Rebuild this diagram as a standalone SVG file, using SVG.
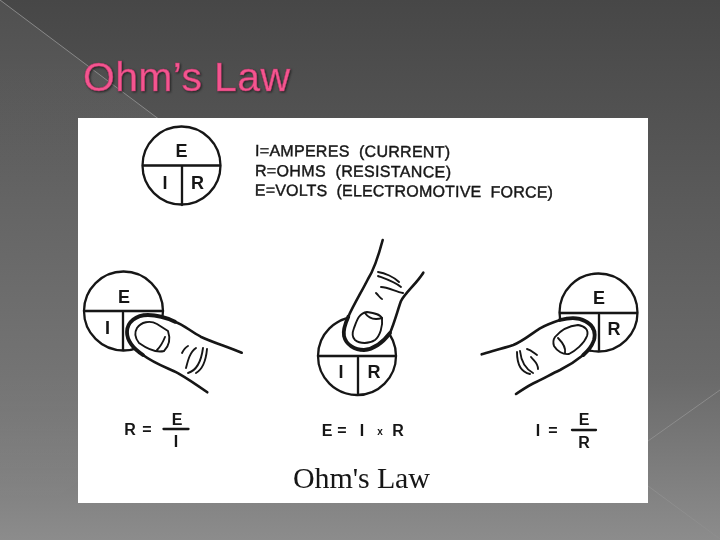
<svg xmlns="http://www.w3.org/2000/svg" width="720" height="540" viewBox="0 0 720 540">
<style>
.ln{fill:none;stroke:#151515;stroke-width:2.3;stroke-linecap:round;stroke-linejoin:round}
.fg{stroke-width:2.6}
.tip{stroke-width:3.8}
.thin{stroke-width:1.9}
.w{fill:#fff;stroke:none}
text{font-family:"Liberation Sans",Arial,sans-serif;fill:#151515}
.big{font-size:18px;font-weight:bold;text-anchor:middle}
.leg{font-size:16px;stroke:#151515;stroke-width:.4}
.eq{font-size:16px;font-weight:bold;text-anchor:middle}
.title{font-size:41px;fill:#f4558f;stroke:#c23a70;stroke-width:.5;filter:drop-shadow(1px 1px 1px #222)}
.cap{font-family:"Liberation Serif","Times New Roman",serif;font-size:30px}
.bgl{fill:none;stroke:#8e8e8e;stroke-width:.9}
</style>
<defs>
<linearGradient id="bg" x1="0" y1="0" x2="0" y2="1">
<stop offset="0" stop-color="#474747"/><stop offset=".37" stop-color="#5a5a5a"/><stop offset=".7" stop-color="#6a6a6a"/><stop offset="1" stop-color="#8c8c8c"/>
</linearGradient>
<linearGradient id="tint" x1="0" y1="0" x2="0" y2="1">
<stop offset="0" stop-color="#fff" stop-opacity=".05"/><stop offset=".7" stop-color="#fff" stop-opacity=".07"/><stop offset=".93" stop-color="#fff" stop-opacity="0"/>
</linearGradient>
<filter id="soft" x="-2%" y="-2%" width="104%" height="104%"><feGaussianBlur stdDeviation=".35"/></filter>
</defs>
<rect width="720" height="540" fill="url(#bg)"/>
<polygon points="0,0 360,270 0,540" fill="url(#tint)"/>
<path class="bgl" d="M0 0L160 120"/>
<path class="bgl" d="M720 390L648 441M648 486L720 539"/>
<text class="title" x="83" y="91" textLength="207" lengthAdjust="spacing">Ohm’s Law</text>
<rect x="78" y="118" width="570" height="385" fill="#fff"/>
<g filter="url(#soft)">
<g id="legend-circle">
<circle class="ln" cx="181.5" cy="165.5" r="39"/>
<path class="ln" d="M143 165.500H220M182 165.500V205"/>
<text class="big" x="181.500" y="157">E</text><text class="big" x="165" y="188.500">I</text><text class="big" x="197.500" y="188.500">R</text>
</g>
<g id="legend-text" transform="rotate(.4 255 170)">
<text class="leg" x="255" y="156" textLength="195" xml:space="preserve">I=AMPERES  (CURRENT)</text>
<text class="leg" x="255" y="176" textLength="196" xml:space="preserve">R=OHMS  (RESISTANCE)</text>
<text class="leg" x="255" y="195.500" textLength="298" xml:space="preserve">E=VOLTS  (ELECTROMOTIVE  FORCE)</text>
</g>
<g id="left-node">
<circle class="ln" cx="123.5" cy="311" r="39.500"/>
<path class="ln" d="M84 311H163M123 311V350"/>
<text class="big" x="124" y="303">E</text><text class="big" x="107.500" y="334">I</text>
<path class="w" d="M242 353L201 337L175 322L150 315L135 318L127 330L128 340L140 354L157 364L178 374L207 393Z"/>
<path class="ln fg" d="M241.700 352.700C225 346 212 342 200.700 336.700C190 331 184 325 175 321.700"/>
<path class="ln tip" d="M175 321.700C165 317 157 315 148 315C136 315 127 322 127 332C127 341 134 349 143 355"/>
<path class="ln fg" d="M143 355C155 364 168 368 178.300 373.300C190 380 197 385 207.300 392.300"/>
<path class="ln thin" d="M137 328C141 322 150 320 157 324L168 331C170 337 170 345 164 351C156 353 146 348 139 343C135 338 134 333 137 328Z"/>
<path class="ln thin" d="M165 337C163 342 160 347 157 350"/>
<path class="ln thin" d="M182 353C184 349 186 347 188 346M186 368C188 360 190 352 196 348M188 373C195 371 201 363 203 348M196 373C203 369 206 360 207 349"/>
</g>
<g id="center-node">
<circle class="ln" cx="357" cy="356" r="39"/>
<path class="ln" d="M318 356H396M358 356V394"/>
<text class="big" x="341" y="378">I</text><text class="big" x="374" y="378">R</text>
<path class="w" d="M383 240L375 263L360 293L348 317L343 333L350 345L363 351L377 345L390 333L400 302L413 287L423 273Z"/>
<path class="ln fg" d="M382.700 240C379 254 375 268 368 279C362 291 354 304 348.300 316.700"/>
<path class="ln tip" d="M348.300 316.700C345 324 343 331 344 336C346 345 355 350 364 350C375 349 384 341 390 333"/>
<path class="ln fg" d="M390 333C395 321 398 309 401 301C405 293 417 283 423.300 272.700"/>
<path class="ln thin" d="M354 328C357 320 359 313 367 312C374 313 380 314 382 318C383 326 380 336 375 340C369 344 360 344 355 340C352 337 352 333 354 328Z"/>
<path class="ln thin" d="M365 313C369 319 375 320 382 318"/>
<path class="ln thin" d="M378 272C385 273 394 277 399 282M378 276C386 279 395 282 401 287M381 287C388 287 396 292 403 293M376 293C379 296 380 298 382 299"/>
</g>
<g id="right-node">
<circle class="ln" cx="598.5" cy="312.500" r="39"/>
<path class="ln" d="M560 313H637M599 313V350"/>
<text class="big" x="599" y="304">E</text><text class="big" x="614" y="335">R</text>
<path class="w" d="M482 354L513 345L540 328L563 318L584 318L596 330L596 342L584 356L560 370L537 382L516 394Z"/>
<path class="ln fg" d="M481.700 354.300C493 351 504 348 513.300 345C523 341 531 334 540 328.300C546 325 554 322 560 320"/>
<path class="ln tip" d="M560 320C568 318 578 317 585 321C593 325 596 332 594 340C592 346 588 351 583.300 355"/>
<path class="ln fg" d="M583.300 355C576 361 568 366 560 370C551 374 545 378 536.700 381.700C529 385 522 390 516 394"/>
<path class="ln thin" d="M555 337C560 331 568 326 578 325C585 326 589 330 587 336C584 344 575 351 569 354C563 355 557 351 554 346C553 343 553 340 555 337Z"/>
<path class="ln thin" d="M558 338C562 342 566 348 565 353"/>
<path class="ln thin" d="M517 352C517 362 520 372 530 374M520 351C521 360 524 368 533 373M527 349C531 350 534 353 537 355M531 357C534 361 538 363 538 369"/>
</g>
<g id="formula-left">
<text class="eq" x="130" y="435">R</text><text class="eq" x="147" y="435">=</text>
<text class="eq" x="177" y="425">E</text><path class="ln" d="M163.500 429H188.500"/><text class="eq" x="176" y="447">I</text>
</g>
<g id="formula-center">
<text class="eq" x="327" y="435.500">E</text><text class="eq" x="342" y="435.500">=</text><text class="eq" x="362" y="435.500">I</text><text class="eq" x="380" y="435" style="font-size:10px">x</text><text class="eq" x="398" y="435.500">R</text>
</g>
<g id="formula-right">
<text class="eq" x="538" y="435.500">I</text><text class="eq" x="553" y="435.500">=</text>
<text class="eq" x="584" y="425">E</text><path class="ln" d="M572 430H596"/><text class="eq" x="584" y="447.500">R</text>
</g>
<text class="cap" x="293" y="488" textLength="137">Ohm's Law</text>
</g>
<g id="connectors"/>
</svg>
